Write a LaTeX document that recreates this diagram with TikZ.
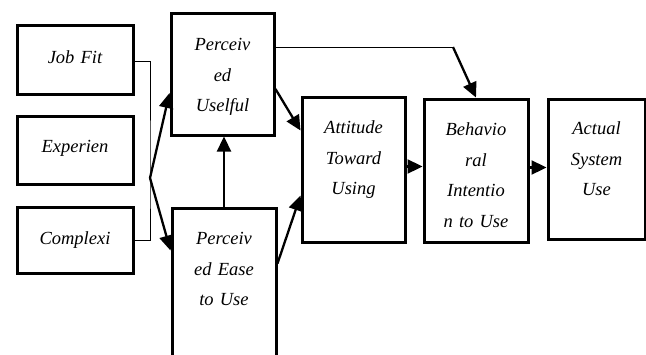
\documentclass[tikz,border=0pt]{standalone}
\usepackage{fontspec}
\setmainfont{Liberation Serif}
\usepackage{tikz}
\usetikzlibrary{calc, arrows.meta}
\tikzset{>={Triangle[length=15pt,width=14pt]}}
\tikzset{box/.style={draw, line width=3pt, inner sep=0pt},
  lbl/.style={font=\itshape\fontsize{18.5}{30.5}\selectfont, text width=96pt, align=center, inner sep=0pt, anchor=base},
  thin/.style={line width=0.9pt},
  thick arrow/.style={->, line width=2.3pt}}

\begin{document}
\begin{tikzpicture}[x=1pt, y=-1pt]
\useasboundingbox (0,0) rectangle (646,354);

\node[box, minimum width=116pt, minimum height=69pt] (jobfit) at (75, 59.5) {};
\node[box, minimum width=116pt, minimum height=68pt] (exper) at (75, 150) {};
\node[box, minimum width=116pt, minimum height=66pt] (complexi) at (75, 240) {};
\node[box, minimum width=103pt, minimum height=122pt] (pu) at (222.5, 74) {};
\node[box, minimum width=104pt, minimum height=162pt] (peu) at (224, 289) {};
\node[box, minimum width=103pt, minimum height=145pt] (atu) at (353.5, 169.5) {};
\node[box, minimum width=104pt, minimum height=143pt] (bi) at (476, 170.5) {};
\node[box, minimum width=97pt, minimum height=140pt] (asu) at (596.5, 169) {};

\node[lbl] (jobfittext) at ([yshift=-40pt]jobfit.north) {Job Fit};
\node[lbl] (expertext) at ([yshift=-38pt]exper.north) {Experien};
\node[lbl] (complexitext) at ([yshift=-39pt]complexi.north) {Complexi};
\node[lbl] (putext) at ([yshift=-39pt]pu.north) {Perceiv\\ed\\Uselful};
\node[lbl] (peutext) at ([yshift=-38pt]peu.north) {Perceiv\\ed Ease\\to Use};
\node[lbl] (atutext) at ([yshift=-38pt]atu.north) {Attitude\\Toward\\Using};
\node[lbl] (bitext) at ([yshift=-38pt]bi.north) {Behavio\\ral\\Intentio\\n to Use};
\node[lbl] (asutext) at ([yshift=-37pt]asu.north) {Actual\\System\\Use};

\coordinate (split) at (150, 178);
\coordinate (bend) at (453, 47);

\draw[thin] ([yshift=-1.5pt]jobfit.east) -| (split) |- (complexi.east);
\draw[thick arrow] (split) -- ([yshift=-19pt]pu.west);
\draw[thick arrow] (split) -- ([yshift=-44pt]peu.north west);
\draw[thick arrow] (peu.north) -- (peu.north |- pu.south);
\draw[thick arrow] ([yshift=-15pt]pu.east) -- ([yshift=-35pt]atu.north west);
\draw[thick arrow] ([yshift=-57pt]peu.north east) -- ([yshift=-100pt]atu.north west);
\draw[thin] (pu.east |- bend) -- (bend);
\draw[thick arrow] (bend) -- (bi.north);
\draw[thick arrow] ([yshift=3pt]atu.east) -- ([yshift=3pt]atu.east -| bi.west);
\draw[thick arrow] ([yshift=3pt]bi.east) -- ([yshift=3pt]bi.east -| asu.west);
\end{tikzpicture}
\end{document}
